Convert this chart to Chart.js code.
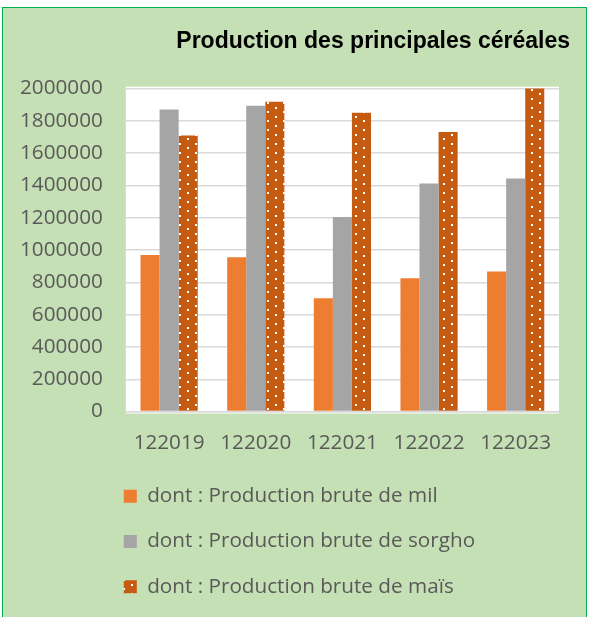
<!DOCTYPE html>
<html lang="fr">
<head>
<meta charset="utf-8">
<title>Production des principales céréales</title>
<script src="https://cdn.jsdelivr.net/npm/chart.js@4.4.1/dist/chart.umd.min.js"></script>
<style>
  html, body { margin: 0; padding: 0; background: #ffffff; }
  #cadre {
    position: absolute;
    left: 2px;
    top: 7px;
    width: 583px;
    height: 609px;
    background: #C5E0B4;
    border: 1px solid #00B050;
  }
  #zone { position: absolute; left: 0; top: 0; width: 583px; height: 609px; }
</style>
</head>
<body>
<div id="cadre">
  <div id="zone"><canvas id="graphique"></canvas></div>
</div>
<script>
// Données (en tonnes)
const annees = ["122019", "122020", "122021", "122022", "122023"];
const mil = [969000, 955000, 702000, 826000, 868000];
const sorgho = [1871000, 1894000, 1205000, 1412000, 1443000];
const mais = [1710000, 1919000, 1851000, 1731000, 2006000];

const gris = "#595959";
const police = "'Open Sans', sans-serif";

// motif pointillé blanc pour le maïs
function motifMais() {
  const c = document.createElement("canvas");
  c.width = 16;
  c.height = 9;
  const g = c.getContext("2d");
  g.fillStyle = "#C55A11";
  g.fillRect(0, 0, 16, 9);
  g.fillStyle = "#ffffff";
  g.fillRect(0, 0, 2, 2);
  g.fillRect(8, 4, 2, 2);
  return g.createPattern(c, "repeat");
}

// fond blanc de la zone de tracé + placement du titre et de la légende
const miseEnPage = {
  id: "miseEnPage",
  afterLayout(chart) {
    const zone = chart.chartArea;
    const pad = chart.options.plugins.legend.labels.padding;
    chart.legend.left = zone.left - pad - 2;
    chart.legend.top += 6;
    chart.titleBlock.right += 11;
  },
  beforeDraw(chart) {
    const { ctx, chartArea: a } = chart;
    ctx.save();
    ctx.fillStyle = "#ffffff";
    ctx.fillRect(a.left, a.top - 2, a.right - a.left, a.bottom - a.top + 4);
    ctx.restore();
  }
};

function creerGraphique() {
  const ctx = document.getElementById("graphique").getContext("2d");
  new Chart(ctx, {
    type: "bar",
    data: {
      labels: annees,
      datasets: [
        { label: "dont : Production brute de mil", data: mil, backgroundColor: "#ED7D31" },
        { label: "dont : Production brute de sorgho", data: sorgho, backgroundColor: "#A5A5A5" },
        { label: "dont : Production brute de maïs", data: mais, backgroundColor: motifMais() }
      ]
    },
    options: {
      responsive: true,
      maintainAspectRatio: false,
      animation: false,
      layout: { padding: { left: 17, right: 27, top: 0, bottom: 16 } },
      datasets: {
        bar: { categoryPercentage: 0.66, barPercentage: 1.0 }
      },
      scales: {
        x: {
          grid: { display: false, tickLength: 19 },
          border: { color: "#D9D9D9", width: 1.5 },
          ticks: {
            color: gris,
            font: { family: police, size: 20.7 },
            padding: 0,
            maxRotation: 0,
            minRotation: 0,
            autoSkip: false
          }
        },
        y: {
          min: 0,
          max: 2000000,
          grid: { color: "#D9D9D9", lineWidth: 1.5, tickLength: 23, tickColor: "transparent" },
          border: { display: false },
          ticks: {
            stepSize: 200000,
            color: gris,
            padding: 0,
            font: { family: police, size: 20.7 },
            callback: v => String(v)
          }
        }
      },
      plugins: {
        title: {
          display: true,
          text: "Production des principales céréales",
          align: "end",
          color: "#000000",
          font: { family: "'Liberation Sans', Arial, sans-serif", size: 23, weight: "bold" },
          padding: { top: 20, bottom: 33 }
        },
        legend: {
          position: "bottom",
          align: "start",
          fullSize: false,
          labels: {
            color: gris,
            font: { family: police, size: 20.7 },
            boxWidth: 13,
            boxHeight: 13,
            padding: 24.5
          }
        },
        tooltip: { enabled: false }
      }
    },
    plugins: [miseEnPage]
  });
}

window.onload = creerGraphique;
</script>
</body>
</html>
